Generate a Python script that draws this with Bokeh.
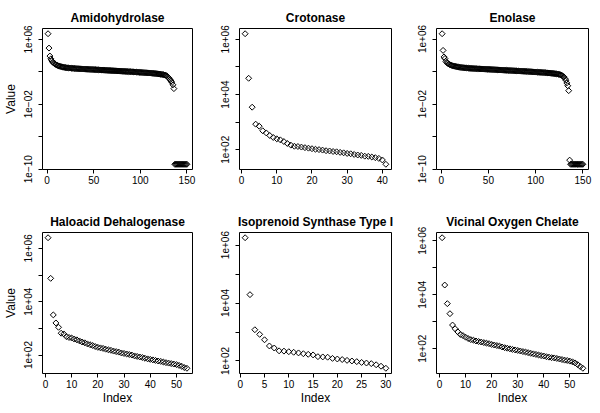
import math
import numpy as np
from bokeh.plotting import figure
from bokeh.layouts import column, row
from bokeh.models import Range1d, FixedTicker
from bokeh.embed import file_html
from bokeh.resources import INLINE

FONT = "Liberation Sans"

# ---------------- data ----------------
titles = ["Amidohydrolase", "Crotonase", "Enolase",
          "Haloacid Dehalogenase", "Isoprenoid Synthase Type I", "Vicinal Oxygen Chelate"]

amidohydrolase = [
    5.0e6, 8.5e4, 8.9e3, 4.0e3, 2.3e3, 1.6e3, 1.2e3, 1.0e3, 830, 710,
    620, 550, 500, 470, 440, 410, 380, 360, 350, 330,
    320, 310, 300, 295, 290, 280, 275, 270, 263, 257,
    251, 246, 244, 240, 235, 233, 229, 224, 222, 219,
    214, 212, 209, 208, 204, 200, 198, 195, 194, 190,
    186, 185, 182, 178, 177, 174, 170, 169, 166, 162,
    161, 158, 155, 154, 151, 148, 147, 145, 141, 140,
    138, 135, 134, 132, 129, 128, 126, 123, 122, 120,
    117, 116, 115, 112, 111, 110, 107, 106, 105, 104,
    102, 100, 98, 96, 95, 93, 91, 89, 87, 86,
    85, 83, 81, 79, 78, 77, 76, 74, 73, 72,
    71, 68, 66, 65, 63, 62, 60, 58, 56, 54,
    52, 50, 48, 46, 44, 41, 37, 33, 28, 21,
    15, 10.5, 7.2, 4.8, 2.5, 0.85,
    4e-10, 4e-10, 4e-10, 4e-10, 4e-10, 4e-10, 4e-10,
    4e-10, 4e-10, 4e-10, 4e-10, 4e-10, 4e-10, 4e-10,
]

crotonase = [
    1.6e6, 3.9e4, 3.5e3, 850, 720, 490, 410, 330, 280, 250,
    230, 200, 170, 148, 135, 132, 126, 120, 115, 110,
    105, 102, 98, 93, 91, 87, 85, 81, 78, 74,
    72, 68, 65, 63, 59, 58, 55, 52, 49, 43,
    30,
]

enolase = [
    4.5e6, 4.0e4, 6.3e3, 4.0e3, 1.8e3, 1.26e3, 1.0e3, 850, 720, 630,
    575, 525, 490, 457, 437, 407, 389, 372, 347, 331,
    324, 316, 302, 295, 288, 282, 275, 269, 263, 251,
    248, 245, 241, 238, 234, 231, 228, 224, 221, 218,
    215, 212, 209, 206, 203, 200, 197, 195, 192, 190,
    187, 184, 181, 178, 176, 173, 170, 168, 165, 163,
    160, 158, 155, 153, 151, 148, 146, 144, 142, 141,
    139, 137, 135, 133, 131, 129, 127, 125, 123, 121,
    119, 117, 116, 114, 112, 111, 109, 108, 107, 105,
    103, 101, 99, 97, 96, 94, 92, 90, 89, 87,
    86, 84, 83, 81, 80, 79, 77, 76, 75, 74,
    72, 70, 68, 67, 65, 63, 61, 60, 58, 56,
    54, 52, 50, 47, 45, 42, 38, 32, 26, 22,
    14, 8.7, 4.0, 1.8, 0.45,
    1.3e-9,
    4e-10, 4e-10, 4e-10, 4e-10, 4e-10, 4e-10, 4e-10,
    4e-10, 4e-10, 4e-10, 4e-10, 4e-10, 4e-10, 4e-10,
]

haloacid = [
    2.5e6, 7.5e4, 3.2e3, 1.6e3, 1.1e3, 660, 620, 490, 457, 437,
    398, 372, 339, 309, 288, 263, 245, 229, 209, 195,
    186, 178, 166, 158, 151, 141, 135, 129, 120, 115,
    110, 105, 100, 93, 89, 85, 81, 76, 72, 69,
    66, 63, 60, 58, 55, 52, 50, 48, 46, 44,
    41, 38, 34, 32,
]

isoprenoid = [
    1.8e6, 1.95e4, 1.2e3, 830, 540, 330, 280, 224, 219, 209,
    200, 190, 178, 170, 162, 141, 138, 135, 123, 117,
    112, 105, 100, 95, 89, 85, 81, 74, 66, 56,
]

vicinal = [
    1.3e6, 2.3e4, 4.7e3, 2.0e3, 760, 550, 427, 339, 309, 269,
    240, 219, 209, 195, 186, 178, 170, 162, 155, 145,
    138, 132, 126, 117, 110, 105, 100, 95, 91, 87,
    83, 79, 76, 72, 68, 65, 62, 59, 56, 54,
    51, 49, 47, 46, 44, 42, 40, 38, 37, 35,
    33, 30, 26, 22, 19,
]

series = [amidohydrolase, crotonase, enolase, haloacid, isoprenoid, vicinal]

# axis ticks
x_ticks = [[0, 50, 100, 150], [0, 10, 20, 30, 40], [0, 50, 100, 150],
           [0, 10, 20, 30, 40, 50], [0, 5, 10, 15, 20, 25, 30], [0, 10, 20, 30, 40, 50]]
wide_major = [1e-10, 1e-2, 1e6]
wide_minor = [1e-6, 1e2]
wide_labels = {1e-10: "1e\u221210", 1e-2: "1e\u221202", 1e6: "1e+06"}
narrow_major = [1e2, 1e4, 1e6]
narrow_minor = [1e3, 1e5]
narrow_labels = {1e2: "1e+02", 1e4: "1e+04", 1e6: "1e+06"}

# ---------------- layout (canvas px) ----------------
col_frame_w = [150, 152, 152]
col_left = [42, 24, 23]
col_right = [23, 22, 12]
row_top = [28, 32]
row_bottom = [31, 40]
FRAME_H = 141


def make_panel(i):
    r, c = divmod(i, 3)
    vals = series[i]
    n = len(vals)
    idx = list(range(1, n + 1))
    lv = np.log10(np.array(vals, dtype=float))
    lo, hi = lv.min(), lv.max()
    pad = 0.04 * (hi - lo)
    xpad = 0.04 * (n - 1)
    p = figure(frame_width=col_frame_w[c], frame_height=FRAME_H,
               min_border_left=col_left[c], min_border_right=col_right[c],
               min_border_top=row_top[r], min_border_bottom=row_bottom[r],
               y_axis_type="log",
               x_range=Range1d(1 - xpad, n + xpad),
               y_range=Range1d(10 ** (lo - pad), 10 ** (hi + pad)),
               output_backend="svg", toolbar_location=None)
    p.scatter(idx, vals, marker="square", angle=math.pi / 4, size=4.2,
              fill_color=None, line_color="black", line_width=1)

    p.grid.visible = False
    p.outline_line_color = "black"
    p.outline_line_width = 1
    p.outline_line_alpha = 1
    p.background_fill_color = "white"
    p.border_fill_color = "white"

    p.title.text = titles[i]
    p.title.text_font = FONT
    p.title.text_font_size = "12px"
    p.title.text_font_style = "bold"
    p.title.align = "center"
    p.title.text_color = "black"
    p.title.standoff = 7

    wide = i in (0, 2)
    p.xaxis.ticker = FixedTicker(ticks=x_ticks[i])
    p.yaxis.ticker = FixedTicker(ticks=wide_major if wide else narrow_major,
                                 minor_ticks=wide_minor if wide else narrow_minor)
    p.yaxis.major_label_overrides = wide_labels if wide else narrow_labels
    p.yaxis.major_label_orientation = "vertical"

    for ax in (p.xaxis[0], p.yaxis[0]):
        ax.axis_line_color = None
        ax.major_tick_out = 4
        ax.major_tick_in = 0
        ax.minor_tick_out = 4
        ax.minor_tick_in = 0
        ax.major_tick_line_color = "black"
        ax.minor_tick_line_color = "black"
        ax.major_label_text_font = FONT
        ax.major_label_text_font_size = "10px"
        ax.major_label_text_color = "black"
        ax.axis_label_text_font = FONT
        ax.axis_label_text_font_size = "12px"
        ax.axis_label_text_font_style = "normal"
        ax.axis_label_text_color = "black"
    p.xaxis.minor_tick_line_color = None
    p.xaxis.major_label_standoff = 2
    p.xaxis.axis_label_standoff = 0
    p.yaxis.major_label_standoff = 6
    p.yaxis.axis_label_standoff = 4

    if c == 0:
        p.yaxis.axis_label = "Value"
    if r == 1:
        p.xaxis.axis_label = "Index"
    return p


panels = [make_panel(i) for i in range(6)]
layout = column(row(*panels[:3], spacing=0), row(*panels[3:], spacing=0), spacing=0)

open("out.html", "w").write(file_html(layout, INLINE))
